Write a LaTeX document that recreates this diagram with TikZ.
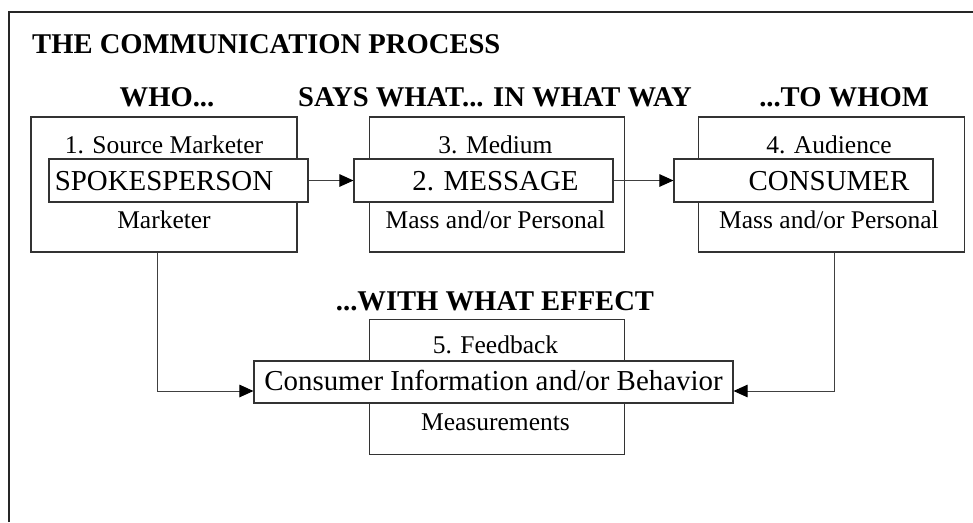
\documentclass[tikz,border=0pt]{standalone}
\usepackage{fontspec}
\setmainfont{Liberation Serif}
\usepackage{tikz}
\usetikzlibrary{arrows.meta,positioning}

\begin{document}
\begin{tikzpicture}[x=1pt,y=-1pt,>={Triangle[length=14pt,width=12.5pt,color=black]},
  stage/.style={draw=black!80,line width=1.1pt,minimum width=266pt,minimum height=135pt,inner sep=0pt},
  core/.style={draw=black!80,fill=white,line width=1.1pt,minimum width=259pt,minimum height=43pt,inner sep=0pt},
  note/.style={anchor=base,inner sep=0pt,font=\fontsize{25.5}{30}\selectfont},
  big/.style={anchor=base,inner sep=0pt,font=\fontsize{28.9}{34}\selectfont},
  head/.style={anchor=base,inner sep=0pt,font=\fontsize{28.6}{34}\selectfont\bfseries},
  link/.style={->,draw=black!75,line width=1pt}]
  \useasboundingbox (0,0) rectangle (973,522);
  \draw[line width=1.5pt,black!85] (9,522) |- (973,12);

  % headings
  \node[head,anchor=base west] (title) at (32,53) {THE COMMUNICATION PROCESS};
  \node[head] (who) at (167,106) {WHO...};
  \node[head] (says) at (495,106) {SAYS WHAT... IN WHAT WAY};
  \node[head] (whom) at (844,106) {...TO WHOM};
  \node[head] (effect) at (495,310) {...WITH WHAT EFFECT};

  % stage boxes
  \node[stage] (source) at (164,184.5) {};
  \node[stage,minimum width=255pt,right=71pt of source] (medium) {};
  \node[stage,right=73pt of medium] (audience) {};
  \node[stage,minimum width=255pt,below=66pt of medium] (feedback) {};

  % inner boxes
  \node[core] (sourcein) at (178.5,180.5) {};
  \node[core] (mediumin) at (483.5,180.5) {};
  \node[core] (audiencein) at (803.5,180.5) {};
  \node[core,minimum width=479pt,minimum height=42pt] (feedbackin) at (493.5,382) {};

  % texts
  \node[note] (sourcetop) at (164,153) {1. Source Marketer};
  \node[big] (sourcename) at (164,190) {SPOKESPERSON};
  \node[note] (sourcebot) at (164,228) {Marketer};
  \node[note] (mediumtop) at (495.5,153) {3. Medium};
  \node[big] (mediumname) at (495.5,190) {2. MESSAGE};
  \node[note] (mediumbot) at (495.5,228) {Mass and/or Personal};
  \node[note] (audiencetop) at (829,153) {4. Audience};
  \node[big] (audiencename) at (829,190) {CONSUMER};
  \node[note] (audiencebot) at (829,228) {Mass and/or Personal};
  \node[note] (feedbacktop) at (495.5,353) {5. Feedback};
  \node[big] (feedbackname) at (493.5,390) {Consumer Information and/or Behavior};
  \node[note] (feedbackbot) at (495.5,430) {Measurements};

  % connectors
  \draw[link] (sourcein) -- (mediumin);
  \draw[link] (mediumin) -- (audiencein);
  \draw[link] ([xshift=-7pt]source.south) |- ([yshift=-9pt]feedbackin.west);
  \draw[link] ([xshift=3pt]audience.south) |- ([yshift=-9pt]feedbackin.east);
\end{tikzpicture}
\end{document}
